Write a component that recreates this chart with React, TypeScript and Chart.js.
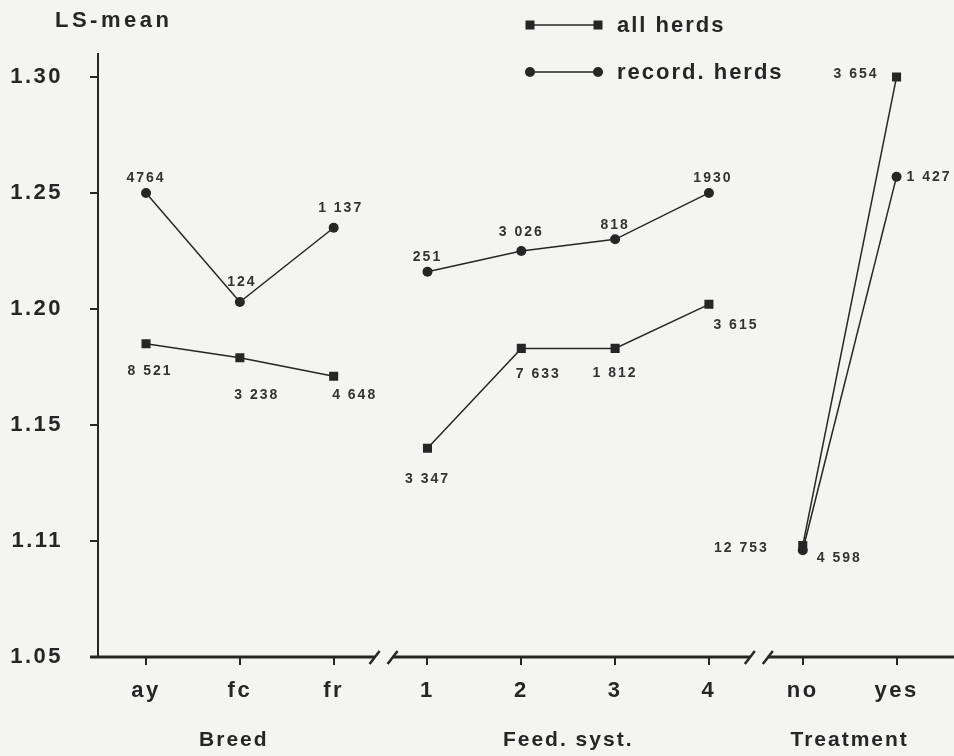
import React, { useEffect, useRef } from "react";
import { Chart, registerables } from "chart.js";

Chart.register(...registerables);

// ---- data ----
const categories = ["ay", "fc", "fr", "1", "2", "3", "4", "no", "yes"];
const groupOfCategory = [0, 0, 0, 1, 1, 1, 1, 2, 2];
const groupTitles = ["Breed", "Feed. syst.", "Treatment"];
const seriesLabels = ["all herds", "record. herds"];
const allHerds = [1.185, 1.179, 1.171, 1.140, 1.183, 1.183, 1.202, 1.098, 1.300];
const recordHerds = [1.250, 1.203, 1.235, 1.216, 1.225, 1.230, 1.250, 1.096, 1.257];
const allHerdsCounts = ["8 521", "3 238", "4 648", "3 347", "7 633", "1 812", "3 615", "12 753", "3 654"];
const recordHerdsCounts = ["4764", "124", "1 137", "251", "3 026", "818", "1930", "4 598", "1 427"];
const yTickValues = [1.05, 1.10, 1.15, 1.20, 1.25, 1.30];
const yTickLabels = ["1.05", "1.11", "1.15", "1.20", "1.25", "1.30"];
const yTitle = "LS-mean";

// ---- style ----
const INK = "#262626";
const LABEL_INK = "#333333";
const PAPER = "#f4f4f2";
const FONT = "'Liberation Sans', Arial, Helvetica, sans-serif";

// label placement relative to each point: [dx, dy, align]
const allLabelPlacement: [number, number, CanvasTextAlign][] = [
  [4, 27, "center"],
  [17, 37, "center"],
  [21, 19, "center"],
  [0, 31, "center"],
  [17, 26, "center"],
  [0, 25, "center"],
  [27, 21, "center"],
  [-34, 3, "right"],
  [-18, -3, "right"],
];
const recordLabelPlacement: [number, number, CanvasTextAlign][] = [
  [0, -15, "center"],
  [2, -20, "center"],
  [7, -20, "center"],
  [0, -15, "center"],
  [0, -19, "center"],
  [0, -14, "center"],
  [4, -15, "center"],
  [14, 8, "left"],
  [10, 0, "left"],
];

function drawMarker(ctx: CanvasRenderingContext2D, style: string, x: number, y: number) {
  ctx.beginPath();
  if (style === "rect") {
    ctx.rect(x - 4.5, y - 4.5, 9, 9);
  } else {
    ctx.arc(x, y, 5, 0, Math.PI * 2);
  }
  ctx.fillStyle = INK;
  ctx.fill();
}

const paperPlugin = {
  id: "paper",
  beforeDraw(chart: any) {
    const ctx = chart.ctx as CanvasRenderingContext2D;
    ctx.save();
    ctx.fillStyle = PAPER;
    ctx.fillRect(0, 0, chart.width, chart.height);
    ctx.restore();
    (ctx as any).letterSpacing = "2.5px";
  },
};

const decorPlugin = {
  id: "decor",
  afterDraw(chart: any) {
    const ctx = chart.ctx as CanvasRenderingContext2D;
    const xs = chart.scales.x;
    const area = chart.chartArea;
    ctx.save();
    (ctx as any).letterSpacing = "2px";
    ctx.strokeStyle = INK;
    ctx.fillStyle = INK;

    // y axis line
    ctx.lineWidth = 2;
    ctx.beginPath();
    ctx.moveTo(area.left, area.top + 3);
    ctx.lineTo(area.left, area.bottom);
    ctx.stroke();

    // x axis line with breaks between groups
    const yb = area.bottom;
    const breaks: number[] = [];
    for (let i = 0; i < categories.length - 1; i++) {
      if (groupOfCategory[i] !== groupOfCategory[i + 1]) {
        breaks.push((xs.getPixelForValue(i) + xs.getPixelForValue(i + 1)) / 2 + 3);
      }
    }
    ctx.lineWidth = 3;
    let start = area.left - 8;
    const half = 9;
    for (const b of breaks) {
      ctx.beginPath();
      ctx.moveTo(start, yb);
      ctx.lineTo(b - half, yb);
      ctx.stroke();
      ctx.lineWidth = 2.5;
      for (const c of [b - half, b + half]) {
        ctx.beginPath();
        ctx.moveTo(c - 5, yb + 7);
        ctx.lineTo(c + 5, yb - 6);
        ctx.stroke();
      }
      ctx.lineWidth = 3;
      start = b + half;
    }
    ctx.beginPath();
    ctx.moveTo(start, yb);
    ctx.lineTo(chart.width, yb);
    ctx.stroke();

    // group titles
    ctx.font = `bold 21px ${FONT}`;
    ctx.textAlign = "center";
    ctx.textBaseline = "middle";
    groupTitles.forEach((t, g) => {
      const idx = groupOfCategory.map((gg, i) => (gg === g ? i : -1)).filter((i) => i >= 0);
      const cx = (xs.getPixelForValue(idx[0]) + xs.getPixelForValue(idx[idx.length - 1])) / 2;
      ctx.fillText(t, cx - (g === 0 ? 6 : 0), 740);
    });

    // y title
    (ctx as any).letterSpacing = "3.5px";
    ctx.font = `bold 22px ${FONT}`;
    ctx.textAlign = "left";
    ctx.fillText(yTitle, 55, 21);

    // legend
    const legendRows = [
      { label: seriesLabels[0], style: "rect", y: 25 },
      { label: seriesLabels[1], style: "circle", y: 72 },
    ];
    (ctx as any).letterSpacing = "2px";
    for (const r of legendRows) {
      ctx.lineWidth = 1.5;
      ctx.beginPath();
      ctx.moveTo(530, r.y);
      ctx.lineTo(598, r.y);
      ctx.stroke();
      drawMarker(ctx, r.style, 530, r.y);
      drawMarker(ctx, r.style, 598, r.y);
      ctx.fillStyle = INK;
      ctx.font = `bold 22px ${FONT}`;
      ctx.textAlign = "left";
      ctx.fillText(r.label, 617, r.y + 1);
    }

    // point count labels
    ctx.font = `bold 14px ${FONT}`;
    ctx.fillStyle = LABEL_INK;
    (ctx as any).letterSpacing = "2px";
    const sets = [
      { counts: allHerdsCounts, place: allLabelPlacement },
      { counts: recordHerdsCounts, place: recordLabelPlacement },
    ];
    sets.forEach((s, di) => {
      const meta = chart.getDatasetMeta(di);
      meta.data.forEach((pt: any, i: number) => {
        const [dx, dy, align] = s.place[i];
        ctx.textAlign = align;
        ctx.textBaseline = "middle";
        ctx.fillText(s.counts[i], pt.x + dx, pt.y + dy);
      });
    });
    ctx.restore();
  },
};

export default function App() {
  const ref = useRef<HTMLCanvasElement | null>(null);

  useEffect(() => {
    document.body.style.margin = "0";
    document.body.style.background = PAPER;
    if (!ref.current) return;
    const hideCross = (c: any) =>
      groupOfCategory[c.p0DataIndex] !== groupOfCategory[c.p1DataIndex] ? "rgba(0,0,0,0)" : INK;

    const chart = new Chart(ref.current, {
      type: "line",
      data: {
        datasets: [
          {
            label: seriesLabels[0],
            data: allHerds.map((v, i) => ({ x: i, y: v })),
            borderColor: INK,
            borderWidth: 1.5,
            pointStyle: "rect",
            pointRadius: 6.4,
            pointBackgroundColor: INK,
            pointBorderWidth: 0,
            segment: { borderColor: hideCross },
          },
          {
            label: seriesLabels[1],
            data: recordHerds.map((v, i) => ({ x: i, y: v })),
            borderColor: INK,
            borderWidth: 1.5,
            pointStyle: "circle",
            pointRadius: 5,
            pointBackgroundColor: INK,
            pointBorderWidth: 0,
            segment: { borderColor: hideCross },
          },
        ],
      },
      options: {
        animation: false,
        responsive: false,
        devicePixelRatio: 1,
        layout: { padding: { top: 50, left: 0, right: 0, bottom: 0 } },
        plugins: {
          legend: { display: false },
          tooltip: { enabled: false },
          title: { display: false },
        },
        scales: {
          x: {
            type: "linear",
            min: -0.512,
            max: 8.544,
            afterBuildTicks: (s: any) => {
              s.ticks = categories.map((_, i) => ({ value: i }));
            },
            afterFit: (s: any) => {
              s.height = 99;
            },
            grid: {
              display: true,
              drawOnChartArea: false,
              drawTicks: true,
              tickLength: 8,
              color: INK,
              lineWidth: 2,
            },
            border: { display: false },
            ticks: {
              callback: (v: any) => categories[Math.round(Number(v))],
              font: { family: FONT, size: 22, weight: "bold" },
              color: INK,
              padding: 13,
              maxRotation: 0,
              autoSkip: false,
            },
          },
          y: {
            type: "linear",
            min: 1.05,
            max: 1.3116,
            afterBuildTicks: (s: any) => {
              s.ticks = yTickValues.map((v) => ({ value: v }));
            },
            afterFit: (s: any) => {
              s.width = 98;
            },
            grid: {
              display: true,
              drawOnChartArea: false,
              drawTicks: true,
              tickLength: 8,
              color: INK,
              lineWidth: 2,
            },
            border: { display: false },
            ticks: {
              callback: (v: any) => {
                const j = yTickValues.findIndex((t) => Math.abs(t - Number(v)) < 1e-6);
                return j >= 0 ? yTickLabels[j] : "";
              },
              font: { family: FONT, size: 22, weight: "bold" },
              color: INK,
              padding: 27,
            },
          },
        },
      },
      plugins: [paperPlugin, decorPlugin],
    } as any);
    return () => chart.destroy();
  }, []);

  return (
    <canvas
      ref={ref}
      width={954}
      height={756}
      style={{ display: "block", width: 954, height: 756 }}
    />
  );
}
